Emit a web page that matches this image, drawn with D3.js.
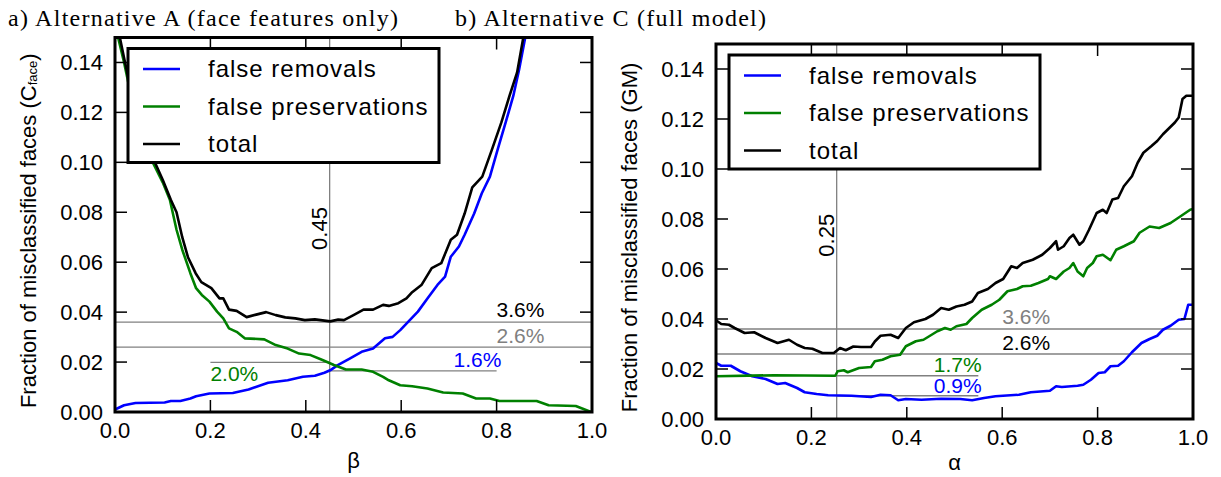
<!DOCTYPE html>
<html>
<head>
<meta charset="utf-8">
<script src="https://cdn.jsdelivr.net/npm/d3@7/dist/d3.min.js"></script>
<style>
  body { margin: 0; background: #fff; }
  svg { display: block; }
  .tick-label { font-family: "Liberation Sans", Arial, sans-serif; font-size: 22px; }
  .title { font-family: "Liberation Serif", "DejaVu Serif", serif; font-size: 24px; }
</style>
</head>
<body>
<div id="chart"></div>
<script>
// ---- data ----
const seriesNames = ["false removals", "false preservations", "total"];
const xTicks = [0.0, 0.2, 0.4, 0.6, 0.8, 1.0];
const yTicks = [0.00, 0.02, 0.04, 0.06, 0.08, 0.10, 0.12, 0.14];

// panel a) beta
const betaRemovals = [[0,0.001],[0.019,0.0027],[0.043,0.0036],[0.104,0.0038],[0.117,0.0044],[0.137,0.0044],[0.158,0.0054],[0.17,0.0063],[0.198,0.0074],[0.247,0.0076],[0.28,0.009],[0.321,0.0117],[0.362,0.0127],[0.394,0.0141],[0.419,0.0145],[0.439,0.0157],[0.451,0.0167],[0.467,0.0188],[0.492,0.0214],[0.517,0.0241],[0.541,0.0254],[0.566,0.0295],[0.582,0.0301],[0.598,0.0328],[0.615,0.0362],[0.635,0.0402],[0.655,0.0455],[0.676,0.0509],[0.692,0.0542],[0.704,0.0622],[0.721,0.0663],[0.733,0.071],[0.753,0.0795],[0.769,0.0876],[0.786,0.0943],[0.802,0.105],[0.819,0.116],[0.835,0.1266],[0.847,0.137],[0.86,0.15],[0.865,0.156]];
const betaPreservations = [[0.004,0.152],[0.019,0.14],[0.04,0.121],[0.065,0.106],[0.08,0.0997],[0.1,0.092],[0.115,0.085],[0.129,0.073],[0.141,0.065],[0.158,0.0556],[0.17,0.0496],[0.182,0.0469],[0.198,0.0442],[0.214,0.0402],[0.227,0.0375],[0.239,0.0335],[0.255,0.0321],[0.272,0.0295],[0.313,0.0291],[0.337,0.0268],[0.362,0.0254],[0.386,0.0234],[0.41,0.0228],[0.435,0.0208],[0.459,0.0188],[0.484,0.017],[0.517,0.017],[0.541,0.0161],[0.562,0.0141],[0.574,0.0127],[0.598,0.0107],[0.623,0.0103],[0.655,0.0094],[0.688,0.0078],[0.729,0.0074],[0.757,0.0054],[0.786,0.0054],[0.806,0.0044],[0.884,0.0044],[0.909,0.0027],[0.966,0.0024],[0.998,0.0]];
const betaTotal = [[0.008,0.152],[0.021,0.14],[0.042,0.121],[0.068,0.106],[0.084,0.0998],[0.1,0.093],[0.117,0.085],[0.129,0.08],[0.141,0.07],[0.153,0.062],[0.169,0.0556],[0.181,0.052],[0.202,0.0496],[0.219,0.0455],[0.227,0.0455],[0.239,0.041],[0.255,0.0405],[0.276,0.038],[0.296,0.039],[0.317,0.04],[0.337,0.0388],[0.357,0.0379],[0.378,0.0375],[0.398,0.0368],[0.419,0.0371],[0.439,0.0366],[0.451,0.0363],[0.468,0.037],[0.48,0.0368],[0.5,0.0388],[0.521,0.041],[0.541,0.041],[0.562,0.0429],[0.574,0.0425],[0.594,0.0436],[0.611,0.0455],[0.623,0.048],[0.643,0.051],[0.664,0.0576],[0.684,0.0596],[0.704,0.069],[0.717,0.071],[0.733,0.0795],[0.749,0.09],[0.77,0.0943],[0.79,0.105],[0.81,0.116],[0.827,0.1266],[0.843,0.136],[0.856,0.15],[0.86,0.156]];

// panel b) alpha
const alphaRemovals = [[0,0.0224],[0.011,0.0213],[0.031,0.0213],[0.051,0.0191],[0.076,0.0171],[0.104,0.016],[0.129,0.014],[0.145,0.0144],[0.17,0.0124],[0.186,0.0107],[0.211,0.01],[0.235,0.0095],[0.284,0.0093],[0.325,0.0088],[0.345,0.0097],[0.366,0.0095],[0.382,0.0075],[0.398,0.008],[0.431,0.0077],[0.472,0.0081],[0.512,0.008],[0.537,0.0075],[0.562,0.0084],[0.586,0.0091],[0.635,0.0097],[0.66,0.0107],[0.7,0.0113],[0.713,0.0131],[0.725,0.0128],[0.758,0.0133],[0.77,0.0137],[0.786,0.0157],[0.802,0.0184],[0.815,0.0187],[0.827,0.0211],[0.843,0.0213],[0.855,0.0231],[0.872,0.0267],[0.892,0.0304],[0.909,0.032],[0.925,0.0333],[0.937,0.0357],[0.953,0.0373],[0.97,0.0397],[0.982,0.04],[0.99,0.0457],[1.0,0.0457]];
const alphaPreservations = [[0,0.0171],[0.121,0.0175],[0.25,0.0173],[0.255,0.0191],[0.268,0.0195],[0.276,0.0187],[0.3,0.0204],[0.325,0.0208],[0.333,0.0231],[0.349,0.0237],[0.366,0.0251],[0.386,0.0257],[0.398,0.0291],[0.419,0.0311],[0.435,0.0317],[0.447,0.0331],[0.464,0.0351],[0.48,0.0364],[0.492,0.0357],[0.504,0.0371],[0.525,0.038],[0.537,0.0404],[0.557,0.0437],[0.578,0.0457],[0.594,0.0477],[0.611,0.0511],[0.631,0.052],[0.643,0.0531],[0.66,0.0533],[0.676,0.0544],[0.696,0.056],[0.7,0.0571],[0.713,0.056],[0.729,0.059],[0.741,0.0604],[0.749,0.0624],[0.758,0.059],[0.77,0.0571],[0.778,0.0604],[0.79,0.0624],[0.798,0.0651],[0.811,0.0657],[0.827,0.0635],[0.839,0.0677],[0.855,0.0691],[0.876,0.0711],[0.888,0.0745],[0.909,0.077],[0.929,0.0764],[0.953,0.0784],[0.974,0.0811],[0.994,0.0837],[1.0,0.084]];
const alphaTotal = [[0,0.0395],[0.011,0.038],[0.027,0.0377],[0.039,0.0364],[0.06,0.0344],[0.08,0.0347],[0.104,0.0324],[0.129,0.0304],[0.153,0.0317],[0.17,0.0297],[0.186,0.0284],[0.202,0.0281],[0.223,0.0264],[0.247,0.0264],[0.26,0.0284],[0.272,0.0275],[0.288,0.029],[0.304,0.0288],[0.325,0.0288],[0.333,0.031],[0.345,0.0333],[0.366,0.0337],[0.382,0.0324],[0.398,0.0364],[0.415,0.0387],[0.439,0.04],[0.455,0.0417],[0.472,0.0444],[0.488,0.0437],[0.504,0.045],[0.521,0.0457],[0.537,0.047],[0.549,0.0504],[0.57,0.052],[0.586,0.0544],[0.602,0.056],[0.619,0.0611],[0.631,0.0604],[0.643,0.0624],[0.664,0.0637],[0.684,0.0657],[0.7,0.0684],[0.713,0.0711],[0.717,0.0677],[0.729,0.0691],[0.741,0.0724],[0.749,0.0737],[0.762,0.0697],[0.77,0.0711],[0.782,0.0757],[0.798,0.0824],[0.811,0.0837],[0.819,0.0824],[0.831,0.0878],[0.843,0.0884],[0.855,0.0931],[0.872,0.0971],[0.884,0.1025],[0.896,0.1065],[0.913,0.1092],[0.925,0.1112],[0.937,0.1139],[0.962,0.1186],[0.97,0.1206],[0.978,0.128],[0.986,0.1293],[1.0,0.1293]];

// optimum markers: [x0, x1, y, label]
const betaOptimum = 0.45;
const betaRefLines = [[0, 1, 0.036, "3.6%"], [0, 1, 0.026, "2.6%"], [0.2, 0.45, 0.0199, "2.0%"], [0.45, 0.8, 0.0165, "1.6%"]];
const alphaOptimum = 0.253;
const alphaRefLines = [[0, 1, 0.036, "3.6%"], [0, 1, 0.026, "2.6%"], [0.253, 0.55, 0.0173, "1.7%"], [0.253, 0.55, 0.0093, "0.9%"]];

const colors = ["#0000ff", "#008000", "#000000"];

const width = 1221, height = 477;
const svg = d3.select("#chart").append("svg")
    .attr("width", width)
    .attr("height", height);

// titles
svg.append("text").attr("class", "title").attr("x", 8).attr("y", 26)
    .attr("textLength", 390).attr("lengthAdjust", "spacing")
    .text("a) Alternative A (face features only)");
svg.append("text").attr("class", "title").attr("x", 455).attr("y", 26)
    .attr("textLength", 311).attr("lengthAdjust", "spacing")
    .text("b) Alternative C (full model)");

const drawPanel = (opts) => {
  const { id, left, top, w, h, series, optimum, optLabel, refLines, labelStyles, xLabel, yLabel } = opts;

  const x = d3.scaleLinear().domain([0, 1]).range([left, left + w]);
  const y = d3.scaleLinear().domain([0, 0.15]).range([top + h, top]);

  const g = svg.append("g");

  g.append("clipPath").attr("id", "clip-" + id)
    .append("rect").attr("x", left).attr("y", top).attr("width", w).attr("height", h);

  const plot = g.append("g").attr("clip-path", `url(#clip-${id})`);

  // optimum vertical line
  plot.append("line")
      .attr("x1", x(optimum)).attr("x2", x(optimum))
      .attr("y1", top).attr("y2", top + h)
      .attr("stroke", "#808080").attr("stroke-width", 1.3);

  // reference lines
  plot.selectAll(".ref").data(refLines).join("line")
      .attr("x1", d => x(d[0])).attr("x2", d => x(d[1]))
      .attr("y1", d => y(d[2])).attr("y2", d => y(d[2]))
      .attr("stroke", "#808080").attr("stroke-width", 1.3);

  // data lines
  const line = d3.line().x(d => x(d[0])).y(d => y(d[1]));
  plot.selectAll(".series").data(series).join("path")
      .attr("d", d => line(d))
      .attr("fill", "none")
      .attr("stroke", (d, i) => colors[i])
      .attr("stroke-width", 2.6)
      .attr("stroke-linejoin", "round");

  // percentage labels
  refLines.forEach((r, i) => {
    const s = labelStyles[i];
    g.append("text").attr("class", "tick-label")
        .attr("x", x(s.at))
        .attr("y", y(r[2]) + s.dy)
        .attr("text-anchor", s.anchor)
        .attr("fill", s.color)
        .style("font-size", "21px")
        .text(r[3]);
  });

  // rotated optimum label
  g.append("text").attr("class", "tick-label")
      .attr("transform", `translate(${x(optimum) - 3},${y(0.0735)}) rotate(-90)`)
      .attr("text-anchor", "middle")
      .text(optLabel);

  // ticks on all four sides, pointing in
  const tl = 12;
  const tickG = g.append("g").attr("stroke", "#000").attr("stroke-width", 1.5);
  xTicks.slice(1, -1).forEach(t => {
    tickG.append("line").attr("x1", x(t)).attr("x2", x(t)).attr("y1", top + h).attr("y2", top + h - tl);
    tickG.append("line").attr("x1", x(t)).attr("x2", x(t)).attr("y1", top).attr("y2", top + tl);
  });
  yTicks.slice(1).forEach(t => {
    tickG.append("line").attr("x1", left).attr("x2", left + tl).attr("y1", y(t)).attr("y2", y(t));
    tickG.append("line").attr("x1", left + w).attr("x2", left + w - tl).attr("y1", y(t)).attr("y2", y(t));
  });

  // tick labels
  g.selectAll(".xt").data(xTicks).join("text")
      .attr("class", "tick-label")
      .attr("x", d => x(d)).attr("y", top + h + 26)
      .attr("text-anchor", "middle")
      .text(d3.format(".1f"));
  g.selectAll(".yt").data(yTicks).join("text")
      .attr("class", "tick-label")
      .attr("x", left - 12).attr("y", d => y(d))
      .attr("dy", "0.36em")
      .attr("text-anchor", "end")
      .text(d3.format(".2f"));

  // legend
  const lg = g.append("g");
  const lx = left + 13, ly = top + 11;
  lg.append("rect").attr("x", lx).attr("y", ly).attr("width", 311).attr("height", 114)
      .attr("fill", "#fff").attr("stroke", "#000").attr("stroke-width", 3);
  seriesNames.forEach((name, i) => {
    const yy = ly + 20.5 + i * 37.5;
    lg.append("line").attr("x1", lx + 15).attr("x2", lx + 52).attr("y1", yy).attr("y2", yy)
        .attr("stroke", colors[i]).attr("stroke-width", 2.6);
    lg.append("text").attr("x", lx + 80).attr("y", yy).attr("dy", "0.35em")
        .style("font-family", "Liberation Sans, Arial, sans-serif")
        .style("font-size", "24px").style("letter-spacing", "1px")
        .text(name);
  });

  // frame
  g.append("rect").attr("x", left).attr("y", top).attr("width", w).attr("height", h)
      .attr("fill", "none").attr("stroke", "#000").attr("stroke-width", 3);

  // axis labels
  g.append("text").attr("class", "tick-label")
      .attr("x", left + w / 2).attr("y", opts.xLabelY)
      .attr("text-anchor", "middle")
      .text(xLabel);
  const yl = g.append("text").attr("class", "tick-label")
      .attr("transform", `translate(${left - 87},${top + h / 2 + 6}) rotate(-90)`)
      .attr("text-anchor", "middle")
      .attr("dominant-baseline", "central");
  yLabel(yl);
};

drawPanel({
  id: "a", left: 115, top: 37.5, w: 477, h: 374.5, xLabelY: 468,
  series: [betaRemovals, betaPreservations, betaTotal],
  optimum: betaOptimum, optLabel: "0.45",
  refLines: betaRefLines,
  labelStyles: [
    { anchor: "start", at: 0.8, dy: -5, color: "#000" },
    { anchor: "start", at: 0.8, dy: -4, color: "#808080" },
    { anchor: "start", at: 0.2, dy: 19, color: "#008000" },
    { anchor: "end", at: 0.81, dy: -4, color: "#0000ff" }
  ],
  xLabel: "β",
  yLabel: t => {
    t.append("tspan").text("Fraction of misclassified faces (C");
    t.append("tspan").attr("font-size", "13px").attr("dy", 4).text("face");
    t.append("tspan").attr("dy", -4).text(")");
  }
});

drawPanel({
  id: "c", left: 716, top: 44, w: 477, h: 375, xLabelY: 470,
  series: [alphaRemovals, alphaPreservations, alphaTotal],
  optimum: alphaOptimum, optLabel: "0.25",
  refLines: alphaRefLines,
  labelStyles: [
    { anchor: "start", at: 0.6, dy: -5, color: "#808080" },
    { anchor: "start", at: 0.6, dy: -4, color: "#000" },
    { anchor: "end", at: 0.557, dy: -4, color: "#008000" },
    { anchor: "end", at: 0.557, dy: -3, color: "#0000ff" }
  ],
  xLabel: "α",
  yLabel: t => t.text("Fraction of misclassified faces (GM)")
});
</script>
</body>
</html>
